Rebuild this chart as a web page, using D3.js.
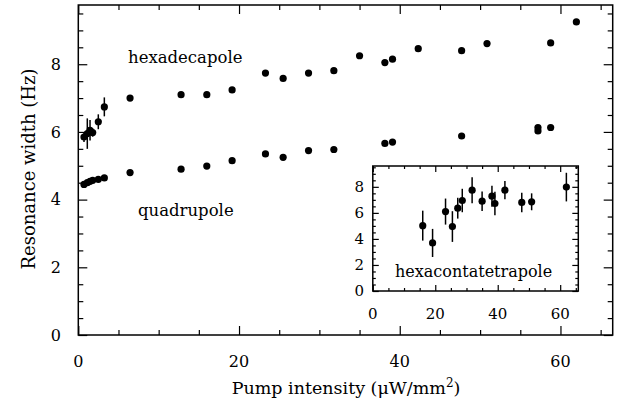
<!DOCTYPE html>
<html><head><meta charset="utf-8">
<script src="https://cdn.jsdelivr.net/npm/d3@7"></script>
<style>
html,body{margin:0;padding:0;background:#fff;}
svg{display:block;}
text{font-family:"DejaVu Serif",serif;fill:#000;}
</style></head>
<body><svg id="c" width="634" height="406"></svg>
<script>
// ---- data ----
const hexX = [0.71, 1.12, 1.46, 1.79, 2.49, 3.24, 6.44, 12.79, 15.99, 19.14, 23.29, 25.49, 28.65, 31.8, 35.0, 38.15, 39.1, 42.3, 47.7, 50.86, 58.78, 61.98];
const hexY = [5.85, 5.95, 6.05, 5.98, 6.3, 6.74, 7.0, 7.1, 7.1, 7.24, 7.74, 7.58, 7.74, 7.81, 8.25, 8.05, 8.15, 8.46, 8.4, 8.61, 8.63, 9.25];
const hexErr = [0.15, 0.45, 0.3, 0.12, 0.22, 0.28, 0, 0, 0, 0, 0, 0, 0, 0, 0, 0, 0, 0, 0, 0, 0, 0];
const quadX = [0.71, 1.12, 1.46, 1.79, 2.49, 3.24, 6.44, 12.79, 15.99, 19.14, 23.29, 25.49, 28.65, 31.8, 38.15, 39.1, 47.7, 57.2, 57.2, 58.78];
const quadY = [4.45, 4.5, 4.54, 4.57, 4.6, 4.64, 4.8, 4.9, 4.99, 5.15, 5.35, 5.25, 5.45, 5.48, 5.66, 5.7, 5.88, 6.13, 6.03, 6.13];
const h64X = [15.99, 19.14, 23.29, 25.49, 27.2, 28.65, 31.8, 35.0, 38.15, 39.1, 42.3, 47.7, 50.86, 61.98];
const h64Y = [5.02, 3.69, 6.1, 4.95, 6.36, 6.95, 7.74, 6.9, 7.28, 6.72, 7.74, 6.8, 6.85, 7.98];
const h64Err = [1.15, 1.08, 1.0, 1.18, 0.8, 0.9, 1.0, 0.75, 0.8, 0.9, 0.7, 0.75, 0.65, 1.1];
const mainXTicks = [0, 20, 40, 60];
const mainYTicks = [0, 2, 4, 6, 8];
const insetXTicks = [0, 20, 40, 60];
const insetYTicks = [0, 2, 4, 6, 8];

const svg = d3.select("#c");

function panel(cfg){
  const {x0,x1,y0,y1,xd,yd,xt,yt,xminor,yminor,major,minor,fs,xlab,ylab,bg} = cfg;
  const x = d3.scaleLinear().domain(xd).range([x0,x1]);
  const y = d3.scaleLinear().domain(yd).range([y1,y0]);
  const g = svg.append("g");
  if(bg) g.append("rect").attr("x",x0).attr("y",y0).attr("width",x1-x0).attr("height",y1-y0).attr("fill","#fff");
  const mk = (gen, tr, vals, size) => {
    const a = g.append("g").attr("transform",tr).call(gen.tickValues(vals).tickSize(size).tickFormat(""));
    a.select(".domain").remove();
    a.selectAll("line").attr("stroke","#000").attr("stroke-width",1.2);
  };
  const xmin = d3.range(xd[0], xd[1]+1e-9, xminor).filter(v=>!xt.includes(v));
  const ymin = d3.range(yd[0], yd[1]+1e-9, yminor).filter(v=>!yt.some(t=>Math.abs(t-v)<1e-9));
  mk(d3.axisBottom(x), `translate(0,${y1})`, xt, -major);
  mk(d3.axisBottom(x), `translate(0,${y1})`, xmin, -minor);
  mk(d3.axisTop(x), `translate(0,${y0})`, xt, -major);
  mk(d3.axisTop(x), `translate(0,${y0})`, xmin, -minor);
  mk(d3.axisLeft(y), `translate(${x0},0)`, yt, -major);
  mk(d3.axisLeft(y), `translate(${x0},0)`, ymin, -minor);
  mk(d3.axisRight(y), `translate(${x1},0)`, yt, -major);
  mk(d3.axisRight(y), `translate(${x1},0)`, ymin, -minor);
  g.append("rect").attr("x",x0).attr("y",y0).attr("width",x1-x0).attr("height",y1-y0)
    .attr("fill","none").attr("stroke","#000").attr("stroke-width",1.5);
  g.selectAll(".xl").data(xt).join("text").attr("x",d=>x(d)).attr("y",xlab)
    .attr("text-anchor","middle").attr("font-size",fs).text(d=>d);
  g.selectAll(".yl").data(yt).join("text").attr("x",ylab).attr("y",d=>y(d)+fs*0.36)
    .attr("text-anchor","end").attr("font-size",fs).text(d=>d);
  return {x,y,g};
}

function dots(p, xs, ys, es){
  const d = xs.map((v,i)=>({x:v,y:ys[i],e:es?es[i]:0}));
  p.g.selectAll(null).data(d.filter(v=>v.e>0)).join("line")
    .attr("x1",v=>p.x(v.x)).attr("x2",v=>p.x(v.x))
    .attr("y1",v=>p.y(v.y-v.e)).attr("y2",v=>p.y(v.y+v.e))
    .attr("stroke","#000").attr("stroke-width",1.5);
  p.g.selectAll(null).data(d).join("circle")
    .attr("cx",v=>p.x(v.x)).attr("cy",v=>p.y(v.y)).attr("r",3.6).attr("fill","#000");
}

const main = panel({x0:78.3,x1:612.7,y0:5,y1:335,xd:[0,66.5],yd:[0,9.75],xt:mainXTicks,yt:mainYTicks,
  xminor:5,yminor:0.5,major:9,minor:5,fs:16,xlab:367,ylab:61});
dots(main, hexX, hexY, hexErr);
dots(main, quadX, quadY, null);
main.g.append("text").attr("x",128).attr("y",63).attr("font-size",16.5).text("hexadecapole");
main.g.append("text").attr("x",138).attr("y",216).attr("font-size",16.5).text("quadrupole");

const xt = svg.append("text").attr("x",346).attr("y",394).attr("text-anchor","middle").attr("font-size",17.5);
xt.append("tspan").text("Pump intensity (\u03bcW/mm");
xt.append("tspan").attr("dy",-7).attr("font-size",12).text("2");
xt.append("tspan").attr("dy",7).text(")");
svg.append("text").attr("transform","translate(35,169) rotate(-90)").attr("text-anchor","middle")
  .attr("font-size",18).text("Resonance width (Hz)");

const inset = panel({x0:372.8,x1:578.3,y0:166,y1:291,xd:[0,65.8],yd:[0,9.6],xt:insetXTicks,yt:insetYTicks,
  xminor:5,yminor:0.5,major:6,minor:3,fs:15,xlab:319,ylab:364,bg:true});
dots(inset, h64X, h64Y, h64Err);
inset.g.append("text").attr("x",395).attr("y",277).attr("font-size",16).text("hexacontatetrapole");
</script></body></html>
